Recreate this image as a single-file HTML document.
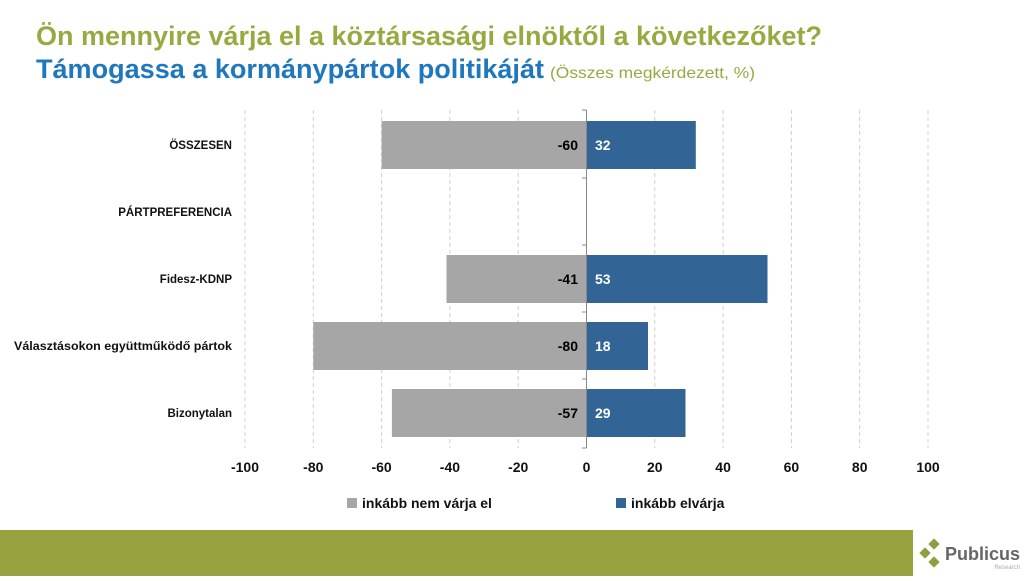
<!DOCTYPE html>
<html><head><meta charset="utf-8"><style>
body{margin:0;width:1024px;height:576px;overflow:hidden;background:#fff;font-family:"Liberation Sans",sans-serif}
</style></head><body>
<svg width="1024" height="576" xmlns="http://www.w3.org/2000/svg" font-family="Liberation Sans, sans-serif">
<text x="36" y="45" font-size="27" font-weight="bold" fill="#98a941" textLength="786" lengthAdjust="spacingAndGlyphs">Ön mennyire várja el a köztársasági elnöktől a következőket?</text>
<text x="36" y="78" font-size="27" font-weight="bold" fill="#1f78bd" textLength="508" lengthAdjust="spacingAndGlyphs">Támogassa a kormánypártok politikáját</text>
<text x="550" y="78" font-size="16" fill="#98a941" textLength="205" lengthAdjust="spacingAndGlyphs">(Összes megkérdezett, %)</text>
<g stroke="#d0d0d0" stroke-dasharray="4,3" stroke-width="1">
<line x1="245" y1="110" x2="245" y2="448"/><line x1="313.3" y1="110" x2="313.3" y2="448"/><line x1="381.6" y1="110" x2="381.6" y2="448"/><line x1="449.9" y1="110" x2="449.9" y2="448"/><line x1="518.2" y1="110" x2="518.2" y2="448"/><line x1="654.8" y1="110" x2="654.8" y2="448"/><line x1="723.1" y1="110" x2="723.1" y2="448"/><line x1="791.4" y1="110" x2="791.4" y2="448"/><line x1="859.7" y1="110" x2="859.7" y2="448"/><line x1="928" y1="110" x2="928" y2="448"/>
</g>
<g>
<rect x="381.6" y="121" width="204.9" height="48" fill="#a6a6a6"/><rect x="586.5" y="121" width="109.3" height="48" fill="#326496"/>
<rect x="446.5" y="255" width="140" height="48" fill="#a6a6a6"/><rect x="586.5" y="255" width="181" height="48" fill="#326496"/>
<rect x="313.3" y="322" width="273.2" height="48" fill="#a6a6a6"/><rect x="586.5" y="322" width="61.5" height="48" fill="#326496"/>
<rect x="391.9" y="389" width="194.6" height="48" fill="#a6a6a6"/><rect x="586.5" y="389" width="99" height="48" fill="#326496"/>
</g>
<line x1="586.5" y1="110" x2="586.5" y2="448" stroke="#888" stroke-width="1"/>
<g stroke="#888"><line x1="582" y1="110" x2="586.5" y2="110"/><line x1="582" y1="178" x2="586.5" y2="178"/><line x1="582" y1="245" x2="586.5" y2="245"/><line x1="582" y1="312" x2="586.5" y2="312"/><line x1="582" y1="379" x2="586.5" y2="379"/><line x1="582" y1="448" x2="586.5" y2="448"/></g>
<g font-size="14" font-weight="bold">
<text x="578" y="150" text-anchor="end" fill="#000">-60</text><text x="595" y="150" fill="#fff">32</text>
<text x="578" y="284" text-anchor="end" fill="#000">-41</text><text x="595" y="284" fill="#fff">53</text>
<text x="578" y="351" text-anchor="end" fill="#000">-80</text><text x="595" y="351" fill="#fff">18</text>
<text x="578" y="418" text-anchor="end" fill="#000">-57</text><text x="595" y="418" fill="#fff">29</text>
</g>
<g font-size="11.5" font-weight="bold" fill="#111" text-anchor="end">
<text x="232" y="149">ÖSSZESEN</text>
<text x="232" y="216">PÁRTPREFERENCIA</text>
<text x="232" y="283">Fidesz-KDNP</text>
<text x="232" y="350" textLength="218" lengthAdjust="spacingAndGlyphs">Választásokon együttműködő pártok</text>
<text x="232" y="417">Bizonytalan</text>
</g>
<g font-size="14" font-weight="bold" fill="#111" text-anchor="middle">
<text x="245" y="472">-100</text><text x="313.3" y="472">-80</text><text x="381.6" y="472">-60</text><text x="449.9" y="472">-40</text><text x="518.2" y="472">-20</text><text x="586.5" y="472">0</text><text x="654.8" y="472">20</text><text x="723.1" y="472">40</text><text x="791.4" y="472">60</text><text x="859.7" y="472">80</text><text x="928" y="472">100</text>
</g>
<rect x="347" y="498" width="10" height="10" fill="#a6a6a6"/>
<text x="362" y="508" font-size="14" font-weight="bold" fill="#111">inkább nem várja el</text>
<rect x="616" y="498" width="10" height="10" fill="#326496"/>
<text x="631" y="508" font-size="14" font-weight="bold" fill="#111">inkább elvárja</text>
<rect x="0" y="530" width="913" height="46" fill="#98a33f"/>
<g fill="#8da040">
<rect x="930" y="540" width="8" height="8" transform="rotate(45 934 544)"/>
<rect x="921" y="549" width="8" height="8" transform="rotate(45 925 553)"/>
<rect x="930" y="558" width="8" height="8" transform="rotate(45 934 562)"/>
</g>
<text x="945" y="560" font-size="18" font-weight="bold" fill="#666">Publicus</text>
<text x="1020" y="569" font-size="6" fill="#aaa" text-anchor="end">Research</text>
</svg>
</body></html>
